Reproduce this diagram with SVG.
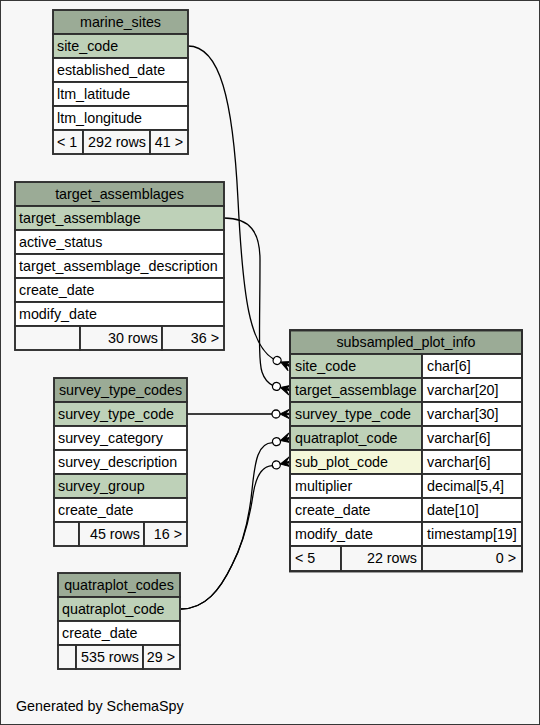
<svg xmlns="http://www.w3.org/2000/svg" xmlns:xlink="http://www.w3.org/1999/xlink" width="540" height="725" viewBox="0 0 540 725">
<style>
text{font-family:"Liberation Sans",Arial,Helvetica,sans-serif;font-size:14.3px;fill:#000}
.m{text-anchor:middle}
.e{text-anchor:end}
rect{stroke:#2e2e2e;stroke-width:1.9}
.hd{fill:#9bab96}
.k{fill:#bed1b8}
.w{fill:#ffffff}
.i{fill:#f4f7da}
.f{fill:#f7f7f7}
.edge{fill:none;stroke:#000;stroke-width:1.3}
</style>
<defs>
<g id="co">
<circle cx="-14" cy="0" r="4" fill="#fff" stroke="#000" stroke-width="1.3"/>
<polygon points="-10,0 0,-5 -4,-0.7 0,-0.7 0,0.7 -4,0.7 0,5" fill="#000" stroke="#000" stroke-width="1" stroke-linejoin="round"/>
</g>
</defs>
<rect x="0" y="0" width="540" height="725" fill="#f7f7f7" stroke="none"/>

<g id="connectors">
<path class="edge" d="M188,46 C220,46 233,100 238,200 C243,300 250,345 273.4,359"/>
<path class="edge" d="M224,218 C250,218 260,232 260,260 C260,320 258,360 262,372 C264,378 268,383 272.6,385.3"/>
<path class="edge" d="M187,414 L272,414"/>
<path class="edge" d="M181,609 C205,609 220,590 232,565 C245,540 250,510 252,490 C255,460 258,443 272.6,442.7"/>
<path class="edge" d="M181,609 C205,609 220,590 232,565 C245,540 250,515 253,495 C256,475 262,466 272.4,465.7"/>
<use xlink:href="#co" href="#co" transform="translate(290,366) rotate(23)"/>
<use xlink:href="#co" href="#co" transform="translate(290,390) rotate(15)"/>
<use xlink:href="#co" href="#co" transform="translate(290,414)"/>
<use xlink:href="#co" href="#co" transform="translate(290,438) rotate(-15)"/>
<use xlink:href="#co" href="#co" transform="translate(290,462) rotate(-12)"/>
</g>

<g id="marine_sites">
<rect class="hd" x="53" y="10" width="135" height="24"/>
<text class="m" x="120.5" y="27">marine_sites</text>
<rect class="k" x="53" y="34" width="135" height="24"/>
<text x="57" y="51">site_code</text>
<rect class="w" x="53" y="58" width="135" height="24"/>
<text x="57" y="75">established_date</text>
<rect class="w" x="53" y="82" width="135" height="24"/>
<text x="57" y="99">ltm_latitude</text>
<rect class="w" x="53" y="106" width="135" height="24"/>
<text x="57" y="123">ltm_longitude</text>
<rect class="f" x="53" y="130" width="30" height="24"/>
<rect class="f" x="83" y="130" width="67" height="24"/>
<rect class="f" x="150" y="130" width="38" height="24"/>
<text x="57" y="147">&lt; 1</text>
<text class="e" x="146" y="147">292 rows</text>
<text class="e" x="183" y="147">41 &gt;</text>
</g>

<g id="target_assemblages">
<rect class="hd" x="15" y="182" width="209" height="24"/>
<text class="m" x="119.5" y="199">target_assemblages</text>
<rect class="k" x="15" y="206" width="209" height="24"/>
<text x="19" y="223">target_assemblage</text>
<rect class="w" x="15" y="230" width="209" height="24"/>
<text x="19" y="247">active_status</text>
<rect class="w" x="15" y="254" width="209" height="24"/>
<text x="19" y="271">target_assemblage_description</text>
<rect class="w" x="15" y="278" width="209" height="24"/>
<text x="19" y="295">create_date</text>
<rect class="w" x="15" y="302" width="209" height="24"/>
<text x="19" y="319">modify_date</text>
<rect class="f" x="15" y="326" width="65" height="24"/>
<rect class="f" x="80" y="326" width="82" height="24"/>
<rect class="f" x="162" y="326" width="62" height="24"/>
<text class="e" x="158" y="343">30 rows</text>
<text class="e" x="219" y="343">36 &gt;</text>
</g>

<g id="survey_type_codes">
<rect class="hd" x="54" y="378" width="133" height="24"/>
<text class="m" x="120.5" y="395">survey_type_codes</text>
<rect class="k" x="54" y="402" width="133" height="24"/>
<text x="58" y="419">survey_type_code</text>
<rect class="w" x="54" y="426" width="133" height="24"/>
<text x="58" y="443">survey_category</text>
<rect class="w" x="54" y="450" width="133" height="24"/>
<text x="58" y="467">survey_description</text>
<rect class="k" x="54" y="474" width="133" height="24"/>
<text x="58" y="491">survey_group</text>
<rect class="w" x="54" y="498" width="133" height="24"/>
<text x="58" y="515">create_date</text>
<rect class="f" x="54" y="522" width="25" height="24"/>
<rect class="f" x="79" y="522" width="65" height="24"/>
<rect class="f" x="144" y="522" width="43" height="24"/>
<text class="e" x="140" y="539">45 rows</text>
<text class="e" x="182" y="539">16 &gt;</text>
</g>

<g id="quatraplot_codes">
<rect class="hd" x="58" y="573" width="122" height="24"/>
<text class="m" x="119" y="590">quatraplot_codes</text>
<rect class="k" x="58" y="597" width="122" height="24"/>
<text x="62" y="614">quatraplot_code</text>
<rect class="w" x="58" y="621" width="122" height="24"/>
<text x="62" y="638">create_date</text>
<rect class="f" x="58" y="645" width="18" height="24"/>
<rect class="f" x="76" y="645" width="67" height="24"/>
<rect class="f" x="143" y="645" width="37" height="24"/>
<text class="e" x="139" y="662">535 rows</text>
<text class="e" x="175" y="662">29 &gt;</text>
</g>

<g id="subsampled_plot_info">
<rect class="hd" x="290" y="330" width="232" height="24"/>
<text class="m" x="406" y="347">subsampled_plot_info</text>
<rect class="k" x="290" y="354" width="132" height="24"/>
<rect class="w" x="422" y="354" width="100" height="24"/>
<text x="295" y="371">site_code</text>
<text x="427" y="371">char[6]</text>
<rect class="k" x="290" y="378" width="132" height="24"/>
<rect class="w" x="422" y="378" width="100" height="24"/>
<text x="295" y="395">target_assemblage</text>
<text x="427" y="395">varchar[20]</text>
<rect class="k" x="290" y="402" width="132" height="24"/>
<rect class="w" x="422" y="402" width="100" height="24"/>
<text x="295" y="419">survey_type_code</text>
<text x="427" y="419">varchar[30]</text>
<rect class="k" x="290" y="426" width="132" height="24"/>
<rect class="w" x="422" y="426" width="100" height="24"/>
<text x="295" y="443">quatraplot_code</text>
<text x="427" y="443">varchar[6]</text>
<rect class="i" x="290" y="450" width="132" height="24"/>
<rect class="w" x="422" y="450" width="100" height="24"/>
<text x="295" y="467">sub_plot_code</text>
<text x="427" y="467">varchar[6]</text>
<rect class="w" x="290" y="474" width="132" height="24"/>
<rect class="w" x="422" y="474" width="100" height="24"/>
<text x="295" y="491">multiplier</text>
<text x="427" y="491">decimal[5,4]</text>
<rect class="w" x="290" y="498" width="132" height="24"/>
<rect class="w" x="422" y="498" width="100" height="24"/>
<text x="295" y="515">create_date</text>
<text x="427" y="515">date[10]</text>
<rect class="w" x="290" y="522" width="132" height="24"/>
<rect class="w" x="422" y="522" width="100" height="24"/>
<text x="295" y="539">modify_date</text>
<text x="427" y="539">timestamp[19]</text>
<rect class="f" x="290" y="546" width="51" height="25"/>
<rect class="f" x="341" y="546" width="81" height="25"/>
<rect class="f" x="422" y="546" width="100" height="25"/>
<text x="295" y="563">&lt; 5</text>
<text class="e" x="417" y="563">22 rows</text>
<text class="e" x="516" y="563">0 &gt;</text>
<rect x="290" y="330.5" width="232" height="241" fill="none" stroke="#000" stroke-width="3.5"/>
</g>

<text x="16" y="711">Generated by SchemaSpy</text>
</svg>
